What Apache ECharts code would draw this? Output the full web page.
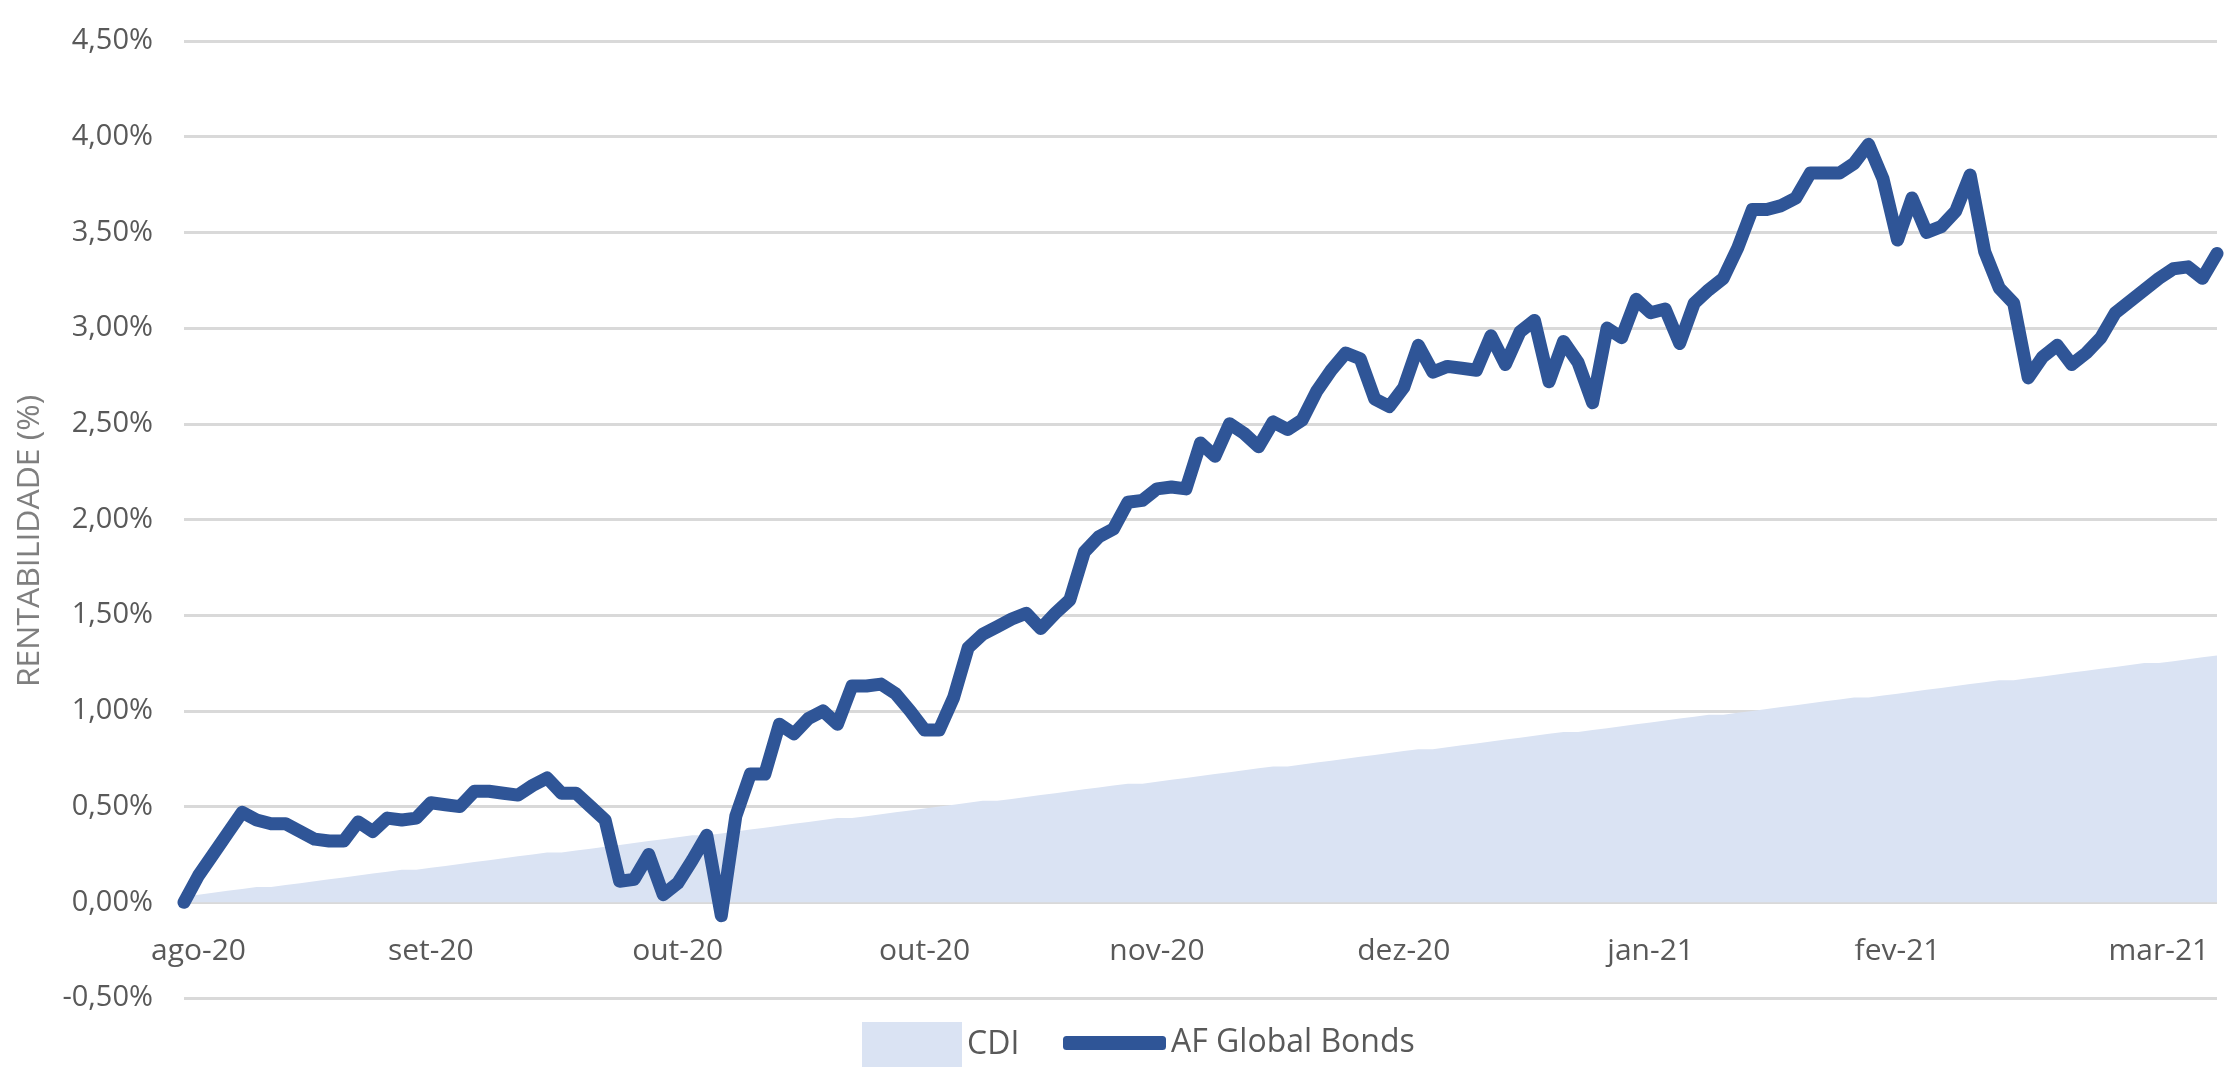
<!DOCTYPE html>
<html>
<head>
<meta charset="utf-8">
<title>AF Global Bonds x CDI</title>
<script src="https://cdn.jsdelivr.net/npm/echarts@6.0.0/dist/echarts.min.js"></script>
<style>
  html, body { margin: 0; padding: 0; background: #fff; }
  #chart { width: 2235px; height: 1067px; }
</style>
</head>
<body>
<div id="chart"></div>
<script>
// rentabilidade acumulada (%), um ponto por pregão aproximado
var afGlobalBonds = [
  0.00, 0.14, 0.25, 0.36, 0.47, 0.43, 0.41, 0.41, 0.37, 0.33,
  0.32, 0.32, 0.42, 0.37, 0.44, 0.43, 0.44, 0.52, 0.51, 0.50,
  0.58, 0.58, 0.57, 0.56, 0.61, 0.65, 0.57, 0.57, 0.50, 0.43,
  0.11, 0.12, 0.25, 0.04, 0.10, 0.22, 0.35, -0.07, 0.45, 0.67,
  0.67, 0.93, 0.88, 0.96, 1.00, 0.93, 1.13, 1.13, 1.14, 1.09,
  1.00, 0.90, 0.90, 1.07, 1.33, 1.40, 1.44, 1.48, 1.51, 1.43,
  1.51, 1.58, 1.83, 1.91, 1.95, 2.09, 2.10, 2.16, 2.17, 2.16,
  2.40, 2.33, 2.50, 2.45, 2.38, 2.51, 2.47, 2.52, 2.67, 2.78,
  2.87, 2.84, 2.63, 2.59, 2.69, 2.91, 2.77, 2.80, 2.79, 2.78,
  2.96, 2.81, 2.98, 3.04, 2.72, 2.93, 2.82, 2.61, 3.00, 2.95,
  3.15, 3.08, 3.10, 2.92, 3.13, 3.20, 3.26, 3.42, 3.62, 3.62,
  3.64, 3.68, 3.81, 3.81, 3.81, 3.86, 3.96, 3.78, 3.46, 3.68,
  3.50, 3.53, 3.61, 3.80, 3.40, 3.21, 3.13, 2.74, 2.85, 2.91,
  2.81, 2.87, 2.95, 3.08, 3.14, 3.20, 3.26, 3.31, 3.32, 3.26,
  3.39
];

var cdi = [
  0.03, 0.04, 0.05, 0.06, 0.07, 0.08, 0.08, 0.09, 0.10, 0.11,
  0.12, 0.13, 0.14, 0.15, 0.16, 0.17, 0.17, 0.18, 0.19, 0.20,
  0.21, 0.22, 0.23, 0.24, 0.25, 0.26, 0.26, 0.27, 0.28, 0.29,
  0.30, 0.31, 0.32, 0.33, 0.34, 0.35, 0.35, 0.36, 0.37, 0.38,
  0.39, 0.40, 0.41, 0.42, 0.43, 0.44, 0.44, 0.45, 0.46, 0.47,
  0.48, 0.49, 0.50, 0.51, 0.52, 0.53, 0.53, 0.54, 0.55, 0.56,
  0.57, 0.58, 0.59, 0.60, 0.61, 0.62, 0.62, 0.63, 0.64, 0.65,
  0.66, 0.67, 0.68, 0.69, 0.70, 0.71, 0.71, 0.72, 0.73, 0.74,
  0.75, 0.76, 0.77, 0.78, 0.79, 0.80, 0.80, 0.81, 0.82, 0.83,
  0.84, 0.85, 0.86, 0.87, 0.88, 0.89, 0.89, 0.90, 0.91, 0.92,
  0.93, 0.94, 0.95, 0.96, 0.97, 0.98, 0.98, 0.99, 1.00, 1.01,
  1.02, 1.03, 1.04, 1.05, 1.06, 1.07, 1.07, 1.08, 1.09, 1.10,
  1.11, 1.12, 1.13, 1.14, 1.15, 1.16, 1.16, 1.17, 1.18, 1.19,
  1.20, 1.21, 1.22, 1.23, 1.24, 1.25, 1.25, 1.26, 1.27, 1.28,
  1.29
];

// rótulos do eixo x e a posição (índice do ponto) de cada um
var tickLabels = ['ago-20', 'set-20', 'out-20', 'out-20', 'nov-20', 'dez-20', 'jan-21', 'fev-21', 'mar-21'];
var tickIndex = [1, 17, 34, 51, 67, 84, 101, 118, 136];

var categories = afGlobalBonds.map(function (v, i) { return String(i); });

var font = '"Open Sans", "Noto Sans", sans-serif';
var labelColor = '#595959';

var myChart = echarts.init(document.getElementById('chart'));
myChart.setOption({
  animation: false,
  backgroundColor: '#ffffff',
  grid: { left: 184, right: 18, top: 41, bottom: 69 },
  legend: [
    {
      left: 862, top: 1022, padding: 0,
      itemWidth: 100, itemHeight: 46, itemGap: 10,
      data: [{ name: 'CDI', icon: 'rect', itemStyle: { color: '#dae3f3' } }],
      textStyle: { fontSize: 32, color: labelColor, fontFamily: font }
    },
    {
      left: 1063, top: 1027, padding: 0,
      itemWidth: 103, itemHeight: 14,
      data: [{ name: 'AF Global Bonds', icon: 'roundRect', itemStyle: { color: '#2f5597' } }],
      textStyle: { fontSize: 32, color: labelColor, fontFamily: font }
    }
  ],
  graphic: [{
    type: 'text',
    x: 30, y: 541,
    rotation: Math.PI / 2,
    scaleX: 1.03,
    style: {
      text: 'RENTABILIDADE (%)',
      fill: '#7f7f7f',
      font: '31px ' + font,
      align: 'center',
      verticalAlign: 'middle'
    }
  }],
  xAxis: {
    type: 'category',
    data: categories,
    boundaryGap: false,
    axisLine: { show: false },
    axisTick: { show: false },
    axisLabel: {
      inside: true,
      interval: function (index) { return tickIndex.indexOf(index) >= 0; },
      formatter: function (value, index) { return tickLabels[tickIndex.indexOf(index)]; },
      margin: 32,
      fontSize: 30,
      color: labelColor,
      fontFamily: font
    },
    splitLine: { show: false }
  },
  yAxis: {
    type: 'value',
    min: -0.5,
    max: 4.5,
    interval: 0.5,
    axisLine: { show: false },
    axisTick: { show: false },
    axisLabel: {
      margin: 31,
      fontSize: 29,
      color: labelColor,
      fontFamily: font,
      formatter: function (v) { return v.toFixed(2).replace('.', ',') + '%'; }
    },
    splitLine: { lineStyle: { color: '#d9d9d9', width: 3 } }
  },
  series: [
    {
      name: 'CDI',
      type: 'line',
      data: cdi,
      symbol: 'none',
      lineStyle: { width: 0 },
      areaStyle: { color: '#dae3f3', opacity: 1 },
      z: 2
    },
    {
      name: 'AF Global Bonds',
      type: 'line',
      data: afGlobalBonds,
      symbol: 'none',
      lineStyle: { color: '#2f5597', width: 13, cap: 'round', join: 'round' },
      z: 3
    }
  ]
});
</script>
</body>
</html>
